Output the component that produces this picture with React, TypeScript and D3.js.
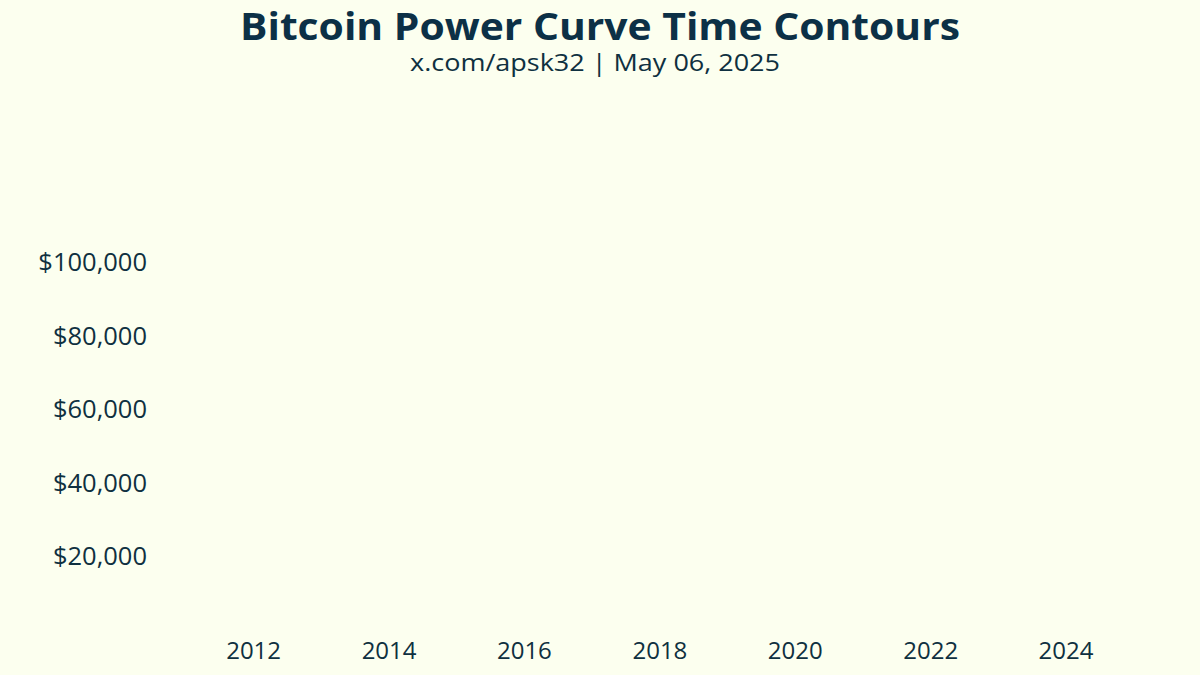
import React from "react";
import * as d3 from "d3";

// ---------- Data ----------
const chartTitle = "Bitcoin Power Curve Time Contours";
const chartSubtitle = "x.com/apsk32 | May 06, 2025";

// x-axis: from the genesis block era to the snapshot date
const dateStart = "2010-07-18";
const dateEnd = "2025-05-06";
const yearTicks = [2012, 2014, 2016, 2018, 2020, 2022, 2024];

// y-axis (USD, linear)
const priceMax = 145000;
const priceTicks = [20000, 40000, 60000, 80000, 100000];

// contour series: none are drawn in this snapshot
const contourSeries: { name: string; values: { date: string; price: number }[] }[] = [];

const W = 1200;
const H = 675;
const BG = "#fcffef";
const INK = "#0f3040";
const FONT = "'Open Sans', 'Noto Sans', sans-serif";

const App: React.FC = () => {
  const x = d3
    .scaleTime()
    .domain([new Date(dateStart), new Date(dateEnd)])
    .range([155, 1157]);

  const y = d3.scaleLinear().domain([0, priceMax]).range([630, 97]);

  const fmtPrice = d3.format("$,.0f");

  const line = d3
    .line<{ date: string; price: number }>()
    .x((d) => x(new Date(d.date)))
    .y((d) => y(d.price));

  return (
    <svg
      width={W}
      height={H}
      style={{ position: "absolute", left: 0, top: 0, background: BG }}
    >
      <rect width={W} height={H} fill={BG} />

      {/* Title */}
      <text
        x={600}
        y={40}
        textAnchor="middle"
        fontFamily={FONT}
        fontWeight={700}
        fontSize={38}
        fill="#0c3046"
        textLength={720}
        lengthAdjust="spacingAndGlyphs"
      >
        {chartTitle}
      </text>
      <text
        x={595}
        y={71}
        textAnchor="middle"
        fontFamily={FONT}
        fontSize={24}
        fill={INK}
        textLength={370}
        lengthAdjust="spacingAndGlyphs"
      >
        {chartSubtitle}
      </text>

      {/* Contours */}
      {contourSeries.map((s) => (
        <path
          key={s.name}
          d={line(s.values) ?? ""}
          fill="none"
          stroke={INK}
          strokeWidth={1.5}
        />
      ))}

      {/* Y axis labels */}
      {priceTicks.map((v) => (
        <text
          key={v}
          x={147}
          y={y(v)}
          dy="0.35em"
          textAnchor="end"
          fontFamily={FONT}
          fontSize={25.5}
          fill={INK}
        >
          {fmtPrice(v)}
        </text>
      ))}

      {/* X axis labels */}
      {yearTicks.map((yr) => (
        <text
          key={yr}
          x={x(new Date(yr, 0, 1))}
          y={651}
          dy="0.35em"
          textAnchor="middle"
          fontFamily={FONT}
          fontSize={24}
          fill={INK}
        >
          {yr}
        </text>
      ))}
    </svg>
  );
};

export default App;
